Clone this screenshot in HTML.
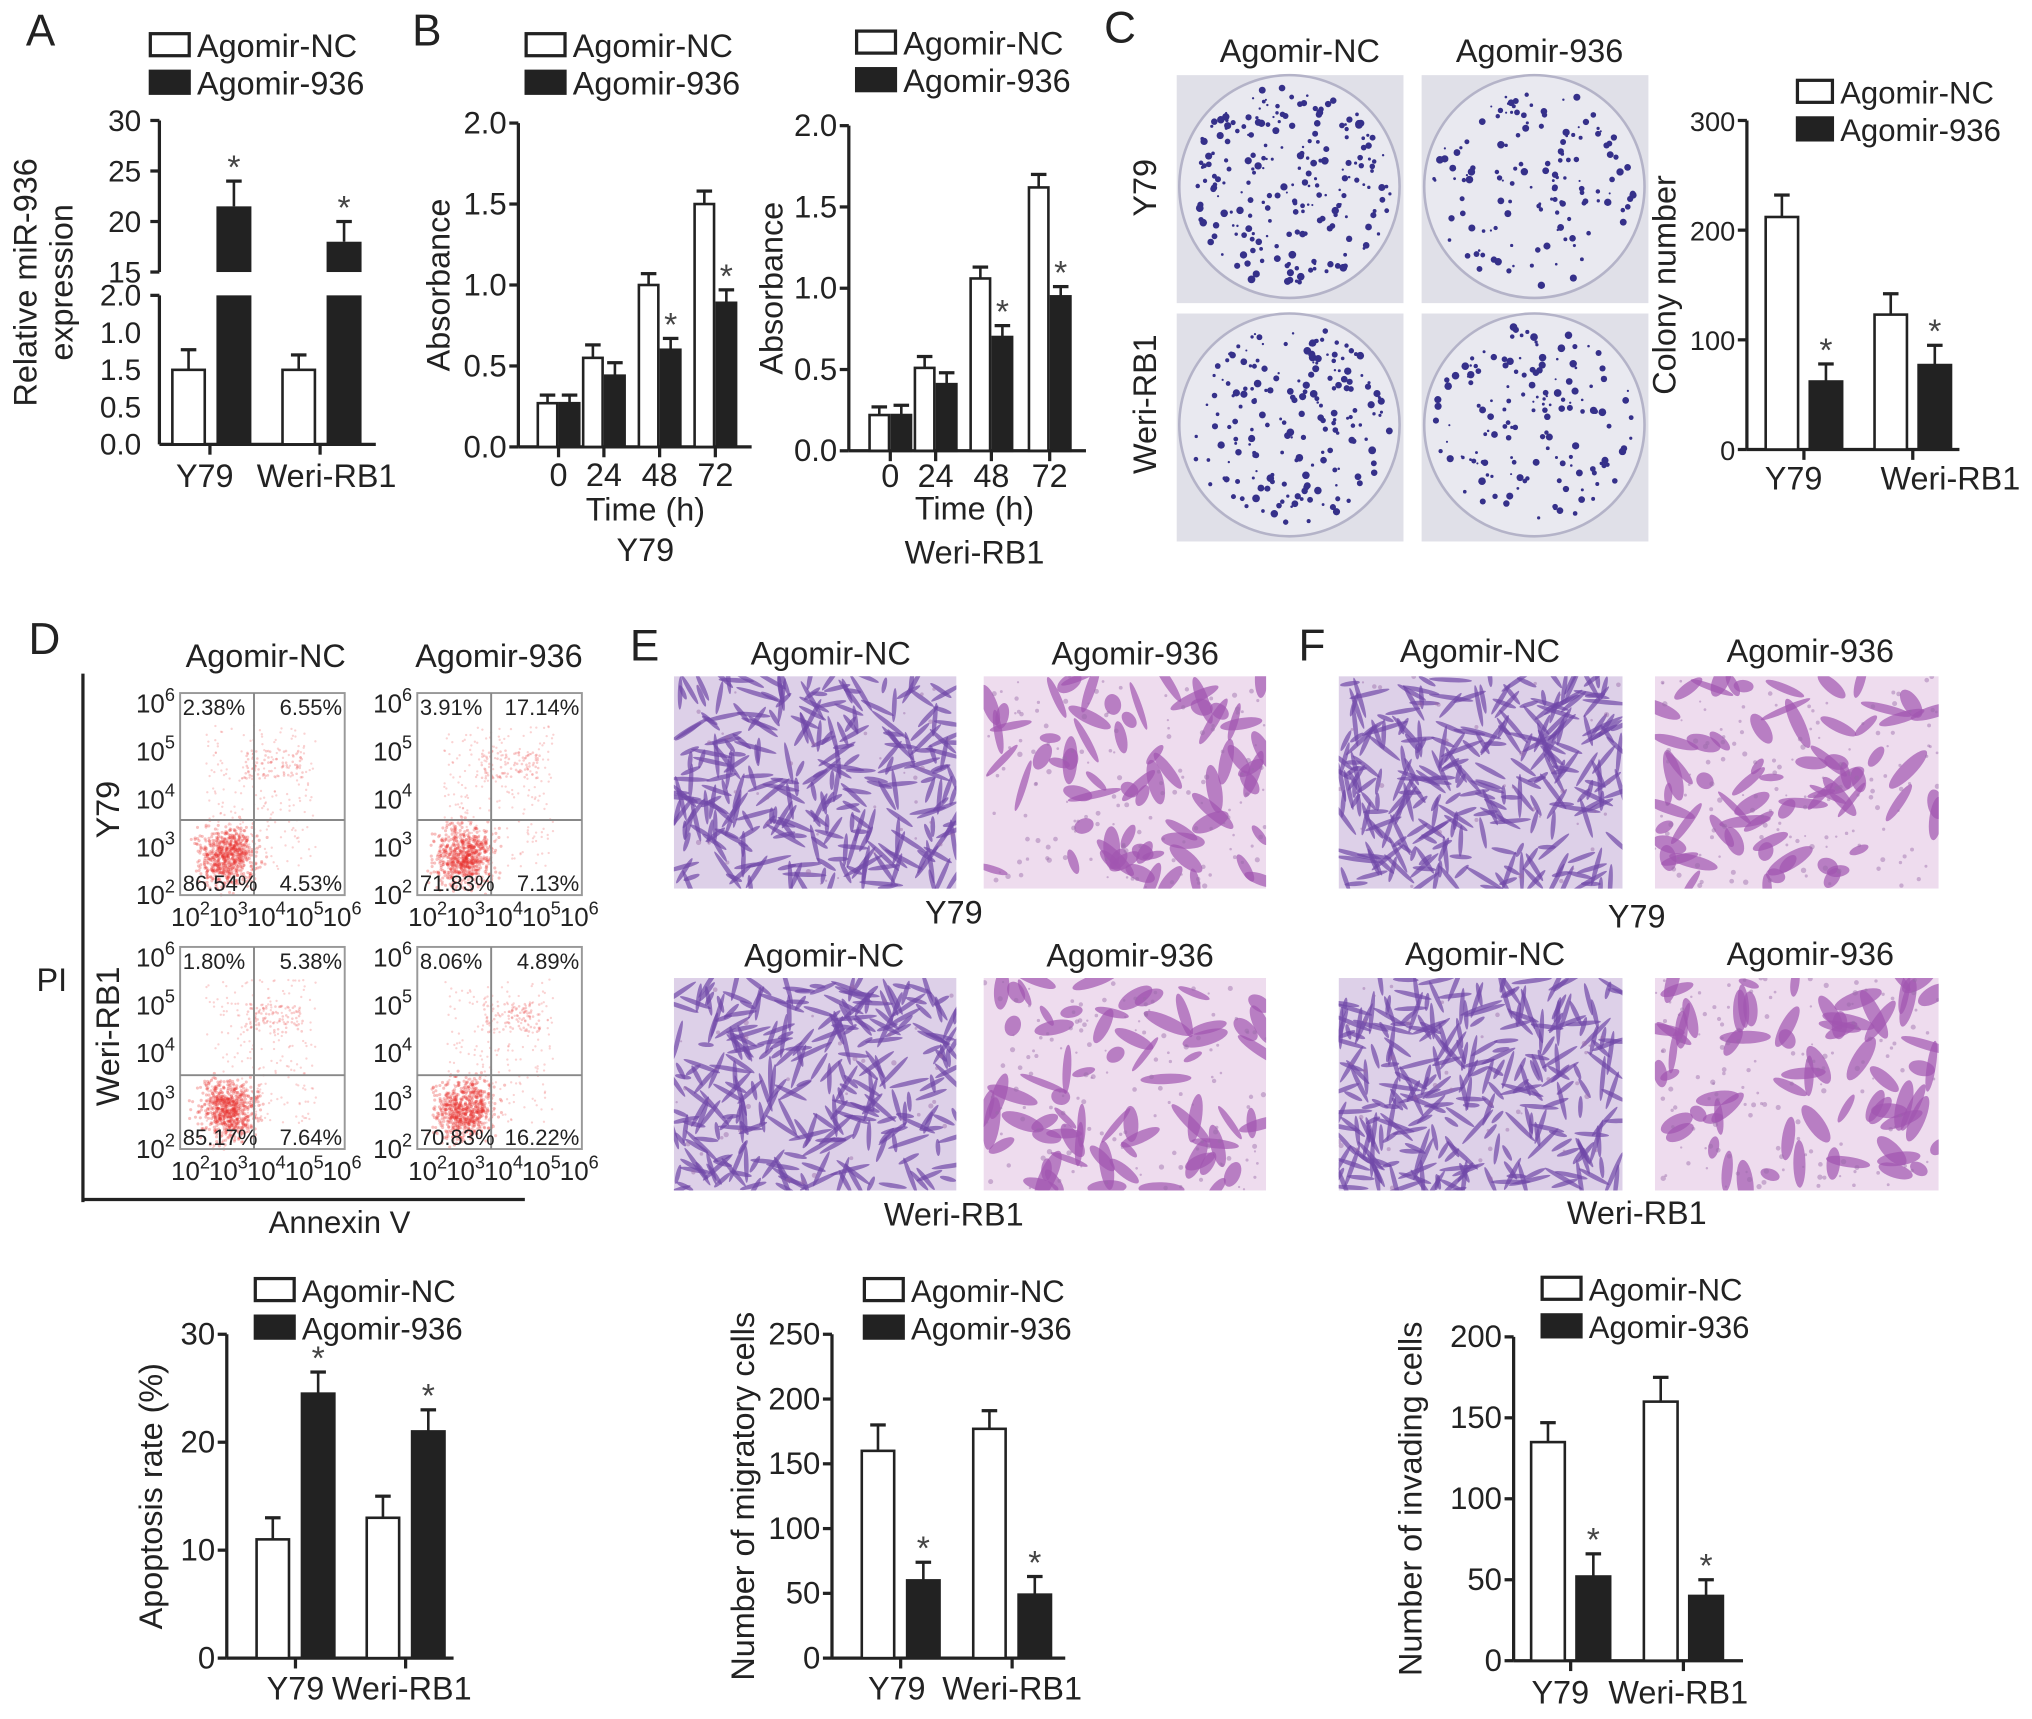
<!DOCTYPE html>
<html><head><meta charset="utf-8"><style>
html,body{margin:0;padding:0;background:#fff;}
svg{display:block;font-family:"Liberation Sans",Arial,sans-serif;}
</style></head><body>
<svg id="fig" width="2032" height="1719" viewBox="0 0 1568 1327" preserveAspectRatio="none" xmlns="http://www.w3.org/2000/svg">
<rect width="1568" height="1327" fill="#fff"/>
<g id="layer-img"></g>
<g id="layer-main" fill="#222" stroke="none"></g>
</svg>
<script>
// ---------- data ----------
const groupsCell = ["Y79","Weri-RB1"];
const seriesNames = ["Agomir-NC","Agomir-936"];
// Panel A (lower segment plotted on its printed linear scale 0..2)
const aNC = [1.0, 1.0];
const aNCerr = [1.27, 1.2];
const a936 = [21.5, 18];
const a936err = [24, 20];
const aTicksTop = ["30","25","20","15"];
const aTicksBot = ["2.0","1.0","1.5","0.5","0.0"];
// Panel B
const bTimes = ["0","24","48","72"];
const bY79NC = [0.27, 0.55, 1.0, 1.5];
const bY79NCerr = [0.32, 0.63, 1.07, 1.58];
const bY79936 = [0.27, 0.44, 0.6, 0.89];
const bY79936err = [0.32, 0.52, 0.67, 0.97];
const bWeNC = [0.22, 0.51, 1.06, 1.62];
const bWeNCerr = [0.27, 0.58, 1.13, 1.7];
const bWe936 = [0.22, 0.41, 0.7, 0.95];
const bWe936err = [0.28, 0.48, 0.77, 1.01];
const bTicks = ["0.0","0.5","1.0","1.5","2.0"];
// Panel C
const cNC = [212, 123];
const cNCerr = [232, 142];
const c936 = [62, 77];
const c936err = [78, 95];
const cTicks = ["0","100","200","300"];
// Panel D
const dNC = [11, 13];
const dNCerr = [13, 15];
const d936 = [24.5, 21];
const d936err = [26.5, 23];
const dTicks = ["0","10","20","30"];
const flowPct = [["2.38%","6.55%","86.54%","4.53%"],["3.91%","17.14%","71.83%","7.13%"],["1.80%","5.38%","85.17%","7.64%"],["8.06%","4.89%","70.83%","16.22%"]];
// Panel E
const eNC = [160, 177];
const eNCerr = [180, 191];
const e936 = [60, 49];
const e936err = [74, 63];
const eTicks = ["0","50","100","150","200","250"];
// Panel F
const fNC = [135, 160];
const fNCerr = [147, 175];
const f936 = [52, 40];
const f936err = [66, 50];
const fTicks = ["0","50","100","150","200"];

// ---------- helpers ----------
const NS="http://www.w3.org/2000/svg";
const main=document.getElementById('layer-main');
const imgL=document.getElementById('layer-img');
function mk(tag,attrs,parent){const e=document.createElementNS(NS,tag);for(const k in attrs)e.setAttribute(k,attrs[k]);(parent||main).appendChild(e);return e;}
function txt(x,y,s,size,anchor,parent,rot){const t=mk('text',{x:x,y:y,'font-size':size,'text-anchor':anchor||'middle',fill:'#222'},parent);t.textContent=s;if(rot)t.setAttribute('transform','rotate('+rot+' '+x+' '+y+')');return t;}
function line(x1,y1,x2,y2,w,parent){return mk('line',{x1:x1,y1:y1,x2:x2,y2:y2,stroke:'#222','stroke-width':w||2},parent);}
let seed=7;function rnd(){seed=(seed*16807)%2147483647;return seed/2147483647;}

function panelLetter(x,y,s){const t=txt(x,y,s,34,'start');}
function legend(x,y,size,w){
  const g=mk('g',{});
  for(let i=0;i<2;i++){
    mk('rect',{x:x,y:y+i*29-16,width:w||30,height:17,fill:i?'#222':'#fff',stroke:'#222','stroke-width':2.5},g);
    const t=txt(x+(w||30)+6,y+i*29+2,seriesNames[i],size||25,'start',g);
    
  }
}
function drawBar(g,x,w,ytop,ybase,yerr,dark,star,name){
  const b=mk('rect',{x:x,y:ytop,width:w,height:ybase-ytop,fill:dark?'#222':'#fff',stroke:'#222','stroke-width':2},g);
  
  line(x+w/2,ytop,x+w/2,yerr,2,g);line(x+w/2-6,yerr,x+w/2+6,yerr,2.5,g);
  if(star){const s=txt(x+w/2,yerr-2,'*',26,'middle',g);s.setAttribute('fill','#444');}
}
function chart(cfg){
  const g=mk('g',{});
  const Y=v=>cfg.y0-(v/cfg.vmax)*(cfg.y0-cfg.y1);
  line(cfg.ax,cfg.y1,cfg.ax,cfg.y0,2.5,g);
  line(cfg.ax,cfg.y0,cfg.xend,cfg.y0,2.5,g);
  cfg.ticks.forEach((t,i)=>{const v=cfg.vmax*i/(cfg.ticks.length-1);const y=Y(v);line(cfg.ax-7,y,cfg.ax,y,2.5,g);
    const tl=txt(cfg.ax-9,y+8,t,cfg.tickSize||24,'end',g);});
  cfg.centers.forEach((c,i)=>{
    drawBar(g,c-cfg.gap/2-cfg.barW,cfg.barW,Y(cfg.nc[i]),cfg.y0,Y(cfg.ncErr[i]),false,false,'bar-nc-'+cfg.xLabels[i]);
    drawBar(g,c+cfg.gap/2,cfg.barW,Y(cfg.d[i]),cfg.y0,Y(cfg.dErr[i]),true,cfg.stars[i],'bar-936-'+cfg.xLabels[i]);
    line(c,cfg.y0,c,cfg.y0+8,2.5,g);
    const xl=txt(c+(cfg.xOff?cfg.xOff[i]:0),cfg.xLabelY,cfg.xLabels[i],cfg.xSize||25,'middle',g);
  });
  if(cfg.ylabel){const yl=txt(cfg.ylx,(cfg.y0+cfg.y1)/2,cfg.ylabel,cfg.ylSize||25,'middle',g,-90);}
  return g;
}

// ---------- Panel A ----------
panelLetter(20,35,'A');
legend(116,42);
(function(){
  const g=mk('g',{});
  const ax=123, tTop=93, tBot=210, bTop=228, bBot=343;
  const Yt=v=>tBot-(v-15)/15*(tBot-tTop);
  const Yb=v=>bBot-(v/2)*(bBot-bTop);
  line(ax,tTop,ax,tBot,2.5,g);line(ax,bTop,ax,bBot,2.5,g);line(ax,bBot,290,bBot,2.5,g);
  aTicksTop.forEach((t,i)=>{const y=tTop+i*(tBot-tTop)/3;line(ax-7,y,ax,y,2.5,g);txt(ax-14,y+8,t,23,'end',g);});
  aTicksBot.forEach((t,i)=>{const y=bTop+i*(bBot-bTop)/4;if(i==0)line(ax-7,y,ax,y,2.5,g);txt(ax-14,y+8,t,23,'end',g);});
  const centers=[162,247];
  centers.forEach((c,i)=>{
    drawBar(g,c-29,25,Yb(aNC[i]),bBot,Yb(aNCerr[i]),false,false,'bar-nc-'+groupsCell[i]);
    const x=c+5,w=27;
    const r1=mk('rect',{x:x,y:bTop,width:w,height:bBot-bTop,fill:'#222'},g);
    const r2=mk('rect',{x:x,y:Yt(a936[i]),width:w,height:tBot-Yt(a936[i]),fill:'#222'},g);
    const ye=Yt(a936err[i]);line(x+w/2,Yt(a936[i]),x+w/2,ye,2,g);line(x+w/2-6,ye,x+w/2+6,ye,2.5,g);
    txt(x+w/2,ye-2,'*',26,'middle',g).setAttribute('fill','#444');
    line(c,bBot,c,bBot+8,2.5,g);
  });
  txt(158,376,'Y79',25,'middle',g);
  txt(252,376,'Weri-RB1',25,'middle',g);
  const t1=txt(28,218,'Relative miR-936',25,'middle',g,-90);
  txt(56,218,'expression',25,'middle',g,-90);
})();

// ---------- Panel B ----------
panelLetter(318,35,'B');
legend(406,42);legend(661,40);
chart({name:'chart-b-y79',ax:400,y0:345,y1:95,vmax:2,ticks:bTicks,centers:[431,466,509,552],barW:15,gap:2,nc:bY79NC,ncErr:bY79NCerr,d:bY79936,dErr:bY79936err,xLabels:bTimes,xLabelY:375,xend:580,stars:[false,false,true,true],ylabel:'Absorbance',ylx:347,xSize:25});
txt(498,402,'Time (h)',25);
txt(498,433,'Y79',25);
chart({name:'chart-b-weri',ax:655,y0:348,y1:97,vmax:2,ticks:bTicks,centers:[687,722,765,810],barW:15,gap:2,nc:bWeNC,ncErr:bWeNCerr,d:bWe936,dErr:bWe936err,xLabels:bTimes,xLabelY:376,xend:838,stars:[false,false,true,true],ylabel:'Absorbance',ylx:604,xSize:25});
txt(752,401,'Time (h)',25);
txt(752,435,'Weri-RB1',25);

// ---------- Panel C ----------
panelLetter(852,33,'C');
txt(1003,48,'Agomir-NC',25);
txt(1188,48,'Agomir-936',25);
txt(892,145,'Y79',25,'middle',main,-90);
txt(892,312,'Weri-RB1',25,'middle',main,-90);
[[908,58],[1097,58],[908,242],[1097,242]].forEach((p,k)=>{
  const g=mk('g',{},imgL);
  mk('rect',{x:p[0],y:p[1],width:175,height:176,fill:'#e0e0e8'},g);
  mk('ellipse',{cx:p[0]+87,cy:p[1]+86,rx:85,ry:86,fill:'#e9e9f0',stroke:'#b4b3c8','stroke-width':2},g);
  const n=[230,140,190,150][k];
  for(let i=0;i<n;i++){const a=rnd()*6.283,r=Math.sqrt(rnd())*78;
    mk('circle',{cx:p[0]+87+r*Math.cos(a),cy:p[1]+86+r*Math.sin(a),r:0.8+rnd()*2.2,fill:'#35308a'},g);}
});
legend(1387,78,24,27);
chart({name:'chart-c',ax:1348,y0:347,y1:93,vmax:300,ticks:cTicks,centers:[1392,1476],barW:25,gap:9,nc:cNC,ncErr:cNCerr,d:c936,dErr:c936err,xLabels:groupsCell,xLabelY:378,xOff:[-8,29],xend:1512,stars:[true,true],ylabel:'Colony number',ylx:1293,tickSize:21});

// ---------- Panel D ----------
panelLetter(22,505,'D');
txt(205,515,'Agomir-NC',25);
txt(385,515,'Agomir-936',25);
line(64,520,64,928,2.5);line(64,926,405,926,2.5);
txt(40,765,'PI',25);
txt(262,952,'Annexin V',24);
txt(92,625,'Y79',25,'middle',main,-90);
txt(92,800,'Weri-RB1',25,'middle',main,-90);
const boxes=[[139,535,196,633],[322,535,379,633],[139,731,196,830],[322,731,379,830]];
boxes.forEach((b,k)=>{
  const g=mk('g',{});
  const x=b[0],y=b[1],w=127,h=156;
  const dg=mk('g',{},g);
  for(let i=0;i<700;i++){const cx=b[2]-20+(rnd()+rnd()+rnd()-1.5)*22,cy=y+h-30+(rnd()+rnd()+rnd()-1.5)*22;
    mk('circle',{cx:cx,cy:cy,r:1.2,fill:'#e8332e',opacity:0.3},dg);}
  for(let i=0;i<220;i++){mk('circle',{cx:x+20+rnd()*85,cy:y+25+rnd()*(h-45),r:0.9,fill:'#f08080',opacity:0.35},dg);}
  for(let i=0;i<90;i++){mk('circle',{cx:b[2]+15+(rnd()-0.5)*45,cy:y+55+(rnd()-0.5)*22,r:1,fill:'#ee7070',opacity:0.35},dg);}
  mk('rect',{x:x,y:y,width:w,height:h,fill:'none',stroke:'#999','stroke-width':1.5},g);
  line(b[2],y,b[2],y+h,1.5,g).setAttribute('stroke','#888');
  line(x,b[3],x+w,b[3],1.5,g).setAttribute('stroke','#888');
  const p=flowPct[k];
  txt(x+2,y+17,p[0],17,'start',g);txt(x+w-2,y+17,p[1],17,'end',g);
  txt(x+2,y+h-3,p[2],17,'start',g);txt(x+w-2,y+h-3,p[3],17,'end',g);
  ['6','5','4','3','2'].forEach((e,i)=>{const yy=y+8+i*(h-8)/4;const t=mk('text',{x:x-4,y:yy+7,'font-size':20,'text-anchor':'end',fill:'#222'},g);t.innerHTML='10<tspan dy="-9" font-size="14">'+e+'</tspan>';});
  ['2','3','4','5','6'].forEach((e,i)=>{const xx=x+8+i*(w-10)/4;const t=mk('text',{x:xx,y:y+h+24,'font-size':20,'text-anchor':'middle',fill:'#222'},g);t.innerHTML='10<tspan dy="-9" font-size="14">'+e+'</tspan>';});
});
legend(197,1003,24);
chart({name:'chart-d',ax:175,y0:1280,y1:1030,vmax:30,ticks:dTicks,centers:[228,313],barW:25,gap:10,nc:dNC,ncErr:dNCerr,d:d936,dErr:d936err,xLabels:groupsCell,xLabelY:1312,xOff:[0,-3],xend:350,stars:[true,true],ylabel:'Apoptosis rate (%)',ylx:125});

// ---------- micrographs ----------
function micro(x,y,w,h,dense,name){
  const g=mk('g',{},imgL);
  const cl=mk('clipPath',{id:'c'+name},g);mk('rect',{x:x,y:y,width:w,height:h},cl);
  const gi=mk('g',{'clip-path':'url(#c'+name+')'},g);
  mk('rect',{x:x,y:y,width:w,height:h,fill:dense?'#ddd0e8':'#eedcee'},gi);
  const n=dense?280:70;
  for(let i=0;i<n;i++){const cx=x+rnd()*w,cy=y+rnd()*h,a=rnd()*180,l=dense?6+rnd()*12:7+rnd()*14;
    mk('ellipse',{cx:cx,cy:cy,rx:l,ry:dense?1.8:2.5+rnd()*4,fill:dense?'#7048a8':'#a156b0',opacity:0.7,transform:'rotate('+a+' '+cx+' '+cy+')'},gi);}
  for(let i=0;i<(dense?40:140);i++){mk('circle',{cx:x+rnd()*w,cy:y+rnd()*h,r:0.8+rnd()*1.3,fill:'#9a6aa8',opacity:0.45},gi);}
}
panelLetter(486,510,'E');
txt(641,513,'Agomir-NC',25);
txt(876,513,'Agomir-936',25);
txt(636,746,'Agomir-NC',25);
txt(872,746,'Agomir-936',25);
micro(520,522,218,164,true,'migration-image-y79-nc');micro(759,522,218,164,false,'migration-image-y79-936');
micro(520,755,218,164,true,'migration-image-weri-nc');micro(759,755,218,164,false,'migration-image-weri-936');
txt(736,713,'Y79',25);
txt(736,946,'Weri-RB1',25);
legend(667,1003,24);
chart({name:'chart-e',ax:642,y0:1280,y1:1030,vmax:250,ticks:eTicks,centers:[695,781],barW:25,gap:10,nc:eNC,ncErr:eNCerr,d:e936,dErr:e936err,xLabels:groupsCell,xLabelY:1312,xOff:[-3,0],xend:822,stars:[true,true],ylabel:'Number of migratory cells',ylx:582});

panelLetter(1002,510,'F');
txt(1142,511,'Agomir-NC',25);
txt(1397,511,'Agomir-936',25);
txt(1146,745,'Agomir-NC',25);
txt(1397,745,'Agomir-936',25);
micro(1033,522,219,164,true,'invasion-image-y79-nc');micro(1277,522,219,164,false,'invasion-image-y79-936');
micro(1033,755,219,164,true,'invasion-image-weri-nc');micro(1277,755,219,164,false,'invasion-image-weri-936');
txt(1263,716,'Y79',25);
txt(1263,945,'Weri-RB1',25);
legend(1190,1002,24);
chart({name:'chart-f',ax:1168,y0:1282,y1:1032,vmax:200,ticks:fTicks,centers:[1212,1299],barW:26,gap:9,nc:fNC,ncErr:fNCerr,d:f936,dErr:f936err,xLabels:groupsCell,xLabelY:1315,xOff:[-8,-4],xend:1345,stars:[true,true],ylabel:'Number of invading cells',ylx:1097});
</script>
</body></html>
